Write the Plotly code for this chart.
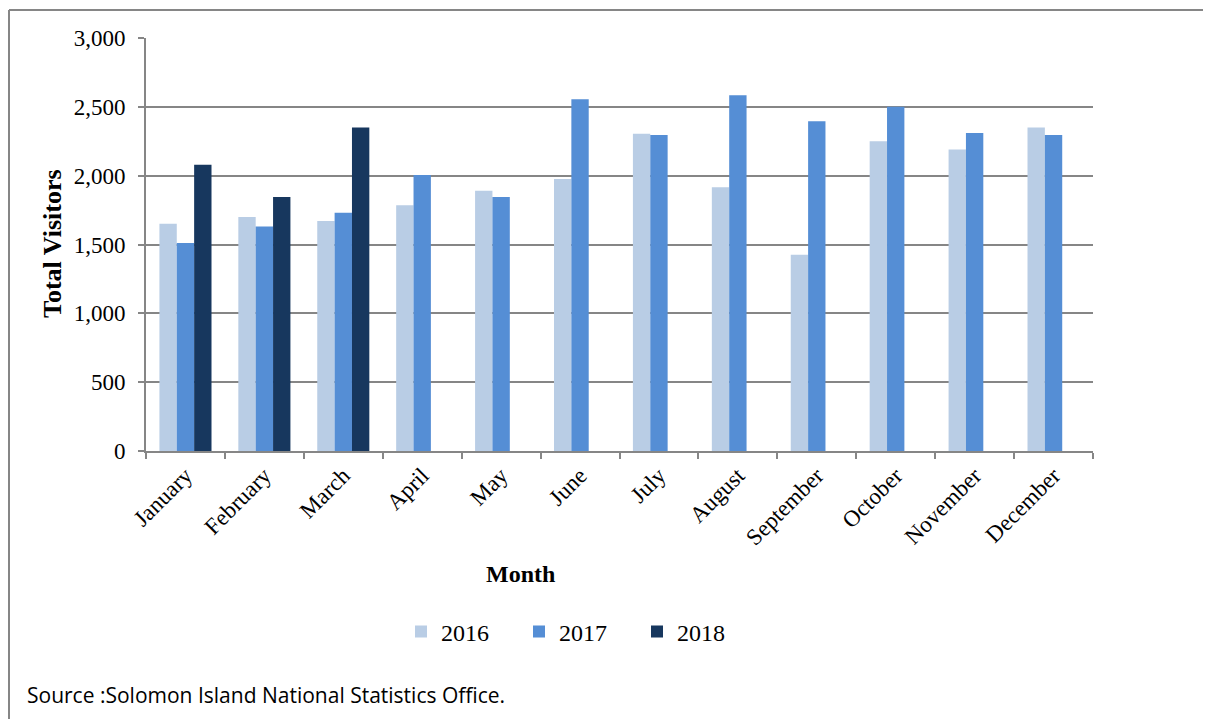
import plotly.graph_objects as go

months = ["January", "February", "March", "April", "May", "June", "July",
          "August", "September", "October", "November", "December"]
v2016 = [1650, 1700, 1670, 1785, 1890, 1975, 2305, 1915, 1425, 2250, 2190, 2350]
v2017 = [1510, 1630, 1730, 2005, 1845, 2555, 2295, 2585, 2395, 2500, 2310, 2295]
v2018 = [2080, 1845, 2350, None, None, None, None, None, None, None, None, None]
years = ["2016", "2017", "2018"]
colors = ["#B9CDE5", "#558ED5", "#17375E"]

serif = "Liberation Serif, Times New Roman, serif"

# page body has an 8px margin; figure is sized so its right/bottom edge meets the window
OFF = 8
W, H = 1211 - OFF, 719 - OFF
PL, PR, PT, PB = 146, 1093, 38, 451   # plot area in page pixels
PW, PH = PR - PL, PB - PT


def px(x):
    return (x - PL) / PW


def py(y):
    return (PB - y) / PH


fig = go.Figure()
for name, vals, col in zip(years, [v2016, v2017, v2018], colors):
    fig.add_trace(go.Bar(x=months, y=vals, name=name, marker_color=col,
                         marker_line_width=0))

fig.update_layout(
    width=W, height=H,
    margin=dict(l=PL - OFF, r=W - (PR - OFF), t=PT - OFF, b=H - (PB - OFF), pad=0),
    plot_bgcolor="white", paper_bgcolor="white",
    barmode="group", bargap=0.34, bargroupgap=0,
    font=dict(family=serif, size=22, color="black"),
    showlegend=True,
    legend=dict(orientation="h", x=px(401), y=py(632), xanchor="left", yanchor="middle",
                font=dict(family=serif, size=24), entrywidth=73, entrywidthmode="pixels",
                itemwidth=30, traceorder="normal"),
)
fig.update_xaxes(
    type="category", tickangle=-45, tickfont=dict(family=serif, size=23),
    showline=True, linecolor="#868686", linewidth=2,
    ticks="outside", tickson="boundaries", ticklen=6, tickcolor="#868686", tickwidth=2,
    showgrid=False,
)
fig.update_yaxes(
    range=[0, 3000], dtick=500, tickformat=",",
    tickfont=dict(family=serif, size=23), ticklabelstandoff=8,
    showline=True, linecolor="#868686", linewidth=2,
    ticks="outside", ticklen=6, tickcolor="#868686", tickwidth=2,
    showgrid=True, gridcolor="#868686", gridwidth=2, zeroline=False,
)

fig.add_annotation(text="<b>Total Visitors</b>", textangle=-90, xref="paper", yref="paper",
                   x=px(52), y=py(244), xanchor="center", yanchor="middle",
                   showarrow=False, font=dict(family=serif, size=26))
fig.add_annotation(text="<b>Month</b>", xref="paper", yref="paper",
                   x=px(520), y=py(574), xanchor="center", yanchor="middle",
                   showarrow=False, font=dict(family=serif, size=24))
fig.add_annotation(text="Source :Solomon Island National Statistics Office.", xref="paper", yref="paper",
                   x=px(25), y=py(695), xanchor="left", yanchor="middle",
                   showarrow=False,
                   font=dict(family="Open Sans, sans-serif", size=21))

# outer chart frame (top and left edges visible)
fig.add_shape(type="line", xref="paper", yref="paper",
              x0=px(9), x1=px(1215), y0=py(10), y1=py(10),
              line=dict(color="#868686", width=2))
fig.add_shape(type="line", xref="paper", yref="paper",
              x0=px(9), x1=px(9), y0=py(10), y1=py(725),
              line=dict(color="#868686", width=2))

fig.write_html("out.html")
